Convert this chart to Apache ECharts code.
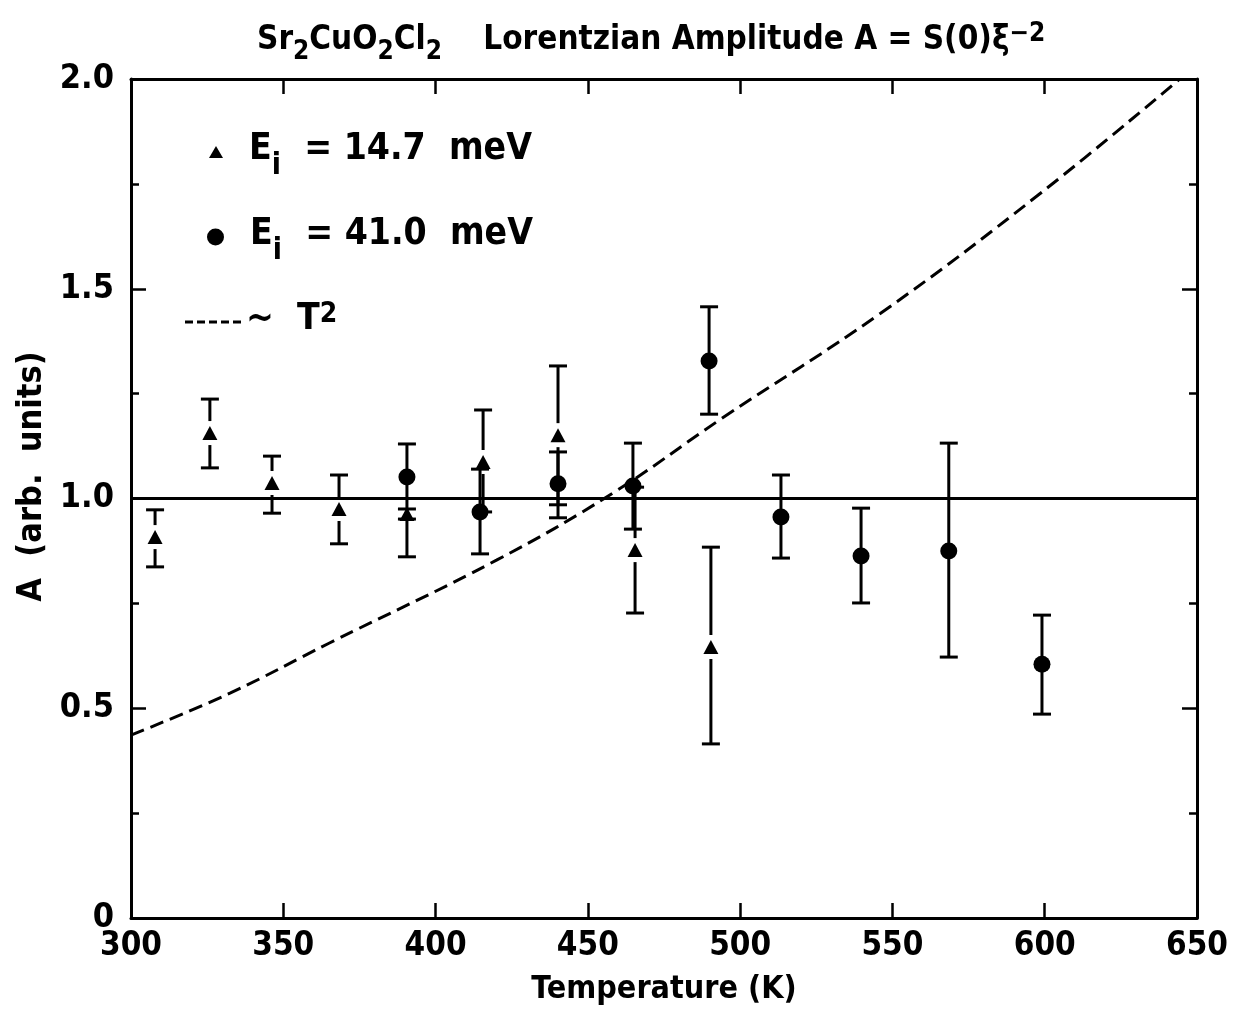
<!DOCTYPE html>
<html><head><meta charset="utf-8">
<script src="https://cdn.jsdelivr.net/npm/echarts@6/dist/echarts.min.js"></script>
<style>html,body{margin:0;padding:0;background:#fff}#c{width:1234px;height:1028px}</style>
</head><body><div id="c"></div>
<script>
// ---------- data ----------
const xTicks = [300, 350, 400, 450, 500, 550, 600, 650];
const yTicks = [0, 0.5, 1.0, 1.5, 2.0];

// Ei = 14.7 meV (triangles)
const triT  = [307.9, 325.9, 346.3, 368.3, 390.6, 415.6, 440.2, 465.5, 490.4];
const triA  = [0.908, 1.156, 1.037, 0.975, 0.963, 1.087, 1.151, 0.877, 0.646];
const triLo = [0.837, 1.073, 0.965, 0.892, 0.951, 0.968, 0.985, 0.727, 0.415];
const triHi = [0.973, 1.237, 1.101, 1.056, 0.975, 1.211, 1.316, 1.027, 0.884];

// Ei = 41.0 meV (circles)
const cirT  = [390.6, 414.6, 440.2, 464.8, 489.8, 513.4, 539.7, 568.5, 599.1];
const cirA  = [1.051, 0.968, 1.035, 1.030, 1.328, 0.956, 0.863, 0.875, 0.605];
const cirLo = [0.861, 0.868, 0.954, 0.927, 1.201, 0.858, 0.751, 0.622, 0.486];
const cirHi = [1.130, 1.070, 1.111, 1.132, 1.457, 1.056, 0.977, 1.132, 0.722];

// ~T^2 dashed curve
const curveT = [300, 332.5, 365, 420, 458, 494, 546, 598.5, 644];
const curveA = [0.436, 0.536, 0.655, 0.853, 1.012, 1.191, 1.441, 1.727, 1.998];

// reference level A = 1
const refT = [300, 650];
const refA = [1.0, 1.0];

const names = ['E_i = 14.7 meV', 'E_i = 41.0 meV', '~ T^2'];
// -----------------------------------------------------

const FONT = "'Liberation Sans Narrow','DejaVu Sans Condensed','Arial Narrow',sans-serif";
const zip = (a, b) => a.map((v, i) => [v, b[i]]);

function errRender(gap) {
  return function (params, api) {
    const x = api.value(0), lo = api.value(1), hi = api.value(2), v = api.value(3);
    const pHi = api.coord([x, hi]), pLo = api.coord([x, lo]), pV = api.coord([x, v]);
    const cap = 9;
    const st = { stroke: '#000', lineWidth: 3, fill: null };
    const ch = [
      { type: 'line', shape: { x1: pHi[0] - cap, y1: pHi[1], x2: pHi[0] + cap, y2: pHi[1] }, style: st },
      { type: 'line', shape: { x1: pLo[0] - cap, y1: pLo[1], x2: pLo[0] + cap, y2: pLo[1] }, style: st }
    ];
    if (gap > 0) {
      if (pV[1] - gap > pHi[1]) ch.push({ type: 'line', shape: { x1: pHi[0], y1: pHi[1], x2: pV[0], y2: pV[1] - gap }, style: st });
      if (pV[1] + gap < pLo[1]) ch.push({ type: 'line', shape: { x1: pV[0], y1: pV[1] + gap, x2: pLo[0], y2: pLo[1] }, style: st });
    } else {
      ch.push({ type: 'line', shape: { x1: pHi[0], y1: pHi[1], x2: pLo[0], y2: pLo[1] }, style: st });
    }
    return { type: 'group', children: ch };
  };
}

const baseText = { fontFamily: FONT, fontWeight: 'bold', color: '#000' };
const legendRich = {
  e: Object.assign({}, baseText, { fontSize: 37, lineHeight: 42, verticalAlign: 'top' }),
  s: Object.assign({}, baseText, { fontSize: 30, lineHeight: 28, verticalAlign: 'top', padding: [20, 0, 0, 0] }),
  t: Object.assign({}, baseText, { fontSize: 37, lineHeight: 42, verticalAlign: 'top' }),
  p: Object.assign({}, baseText, { fontSize: 28, lineHeight: 28, verticalAlign: 'top', padding: [0, 0, 14, 0] })
};
function legendFmt(name) {
  if (name === names[0]) return '{e|E}{s|i}{t|  = 14.7  meV}';
  if (name === names[1]) return '{e|E}{s|i}{t|  = 41.0  meV}';
  return '{t|~  T}{p|2}';
}

const axisLineStyle = { color: '#000', width: 3 };
const tickStyle = { color: '#000', width: 2.5 };

const xAxisCommon = {
  type: 'value', min: 300, max: 650, interval: 50,
  axisLine: { show: true, onZero: false, lineStyle: axisLineStyle },
  axisTick: { show: true, inside: true, length: 15, lineStyle: tickStyle },
  splitLine: { show: false }
};
const yAxisCommon = {
  type: 'value', min: 0, max: 2, interval: 0.5,
  axisLine: { show: true, onZero: false, lineStyle: axisLineStyle },
  axisTick: { show: true, inside: true, length: 15, lineStyle: tickStyle },
  minorTick: { show: true, splitNumber: 2, length: 8, lineStyle: tickStyle },
  splitLine: { show: false }, minorSplitLine: { show: false }
};

// dashed legend sample: 5 dashes
const dashIcon = 'path://M0,0h8v3h-8z M12,0h8v3h-8z M24,0h8v3h-8z M36,0h8v3h-8z M48,0h8v3h-8z';

const option = {
  backgroundColor: '#fff',
  animation: false,
  title: {
    text: 'Sr{s|2}CuO{s|2}Cl{s|2}    Lorentzian Amplitude A = S(0)ξ{p|−2}',
    left: 252, top: 16,
    textStyle: Object.assign({}, baseText, {
      fontSize: 33, lineHeight: 38,
      rich: {
        s: Object.assign({}, baseText, { fontSize: 26, lineHeight: 26, verticalAlign: 'top', padding: [18, 0, 0, 0] }),
        p: Object.assign({}, baseText, { fontSize: 26, lineHeight: 26, verticalAlign: 'top', padding: [0, 0, 12, 0] })
      }
    })
  },
  grid: { left: 131, right: 37, top: 79, bottom: 110, containLabel: false },
  legend: [
    { data: [names[0]], left: 204, top: 126, orient: 'vertical', icon: 'triangle', itemWidth: 14, itemHeight: 12,
      formatter: legendFmt, textStyle: Object.assign({}, baseText, { fontSize: 37, rich: legendRich, padding: [0, 0, 0, 21] }) },
    { data: [names[1]], left: 202, top: 211, orient: 'vertical', icon: 'circle', itemWidth: 17, itemHeight: 17,
      formatter: legendFmt, textStyle: Object.assign({}, baseText, { fontSize: 37, rich: legendRich, padding: [0, 0, 0, 21] }) },
    { data: [names[2]], left: 180, top: 296, orient: 'vertical', icon: dashIcon, itemWidth: 56, itemHeight: 3,
      itemStyle: { color: '#000' },
      formatter: legendFmt, textStyle: Object.assign({}, baseText, { fontSize: 37, rich: legendRich }) }
  ],
  xAxis: [
    Object.assign({}, xAxisCommon, {
      position: 'bottom',
      name: 'Temperature (K)', nameLocation: 'middle', nameGap: 56,
      nameTextStyle: Object.assign({}, baseText, { fontSize: 32 }),
      axisLabel: Object.assign({}, baseText, { fontSize: 33, margin: 12 })
    }),
    Object.assign({}, xAxisCommon, { position: 'top', axisLabel: { show: false } })
  ],
  yAxis: [
    Object.assign({}, yAxisCommon, {
      position: 'left',
      name: 'A  (arb.  units)', nameLocation: 'middle', nameGap: 78, nameRotate: 90,
      nameTextStyle: Object.assign({}, baseText, { fontSize: 34, padding: [0, 0, 0, 44] }),
      axisLabel: Object.assign({}, baseText, { fontSize: 34, margin: 17,
        formatter: v => (v === 0 ? '0' : v.toFixed(1)) })
    }),
    Object.assign({}, yAxisCommon, { position: 'right', axisLabel: { show: false } })
  ],
  series: [
    { name: 'ref', type: 'line', data: zip(refT, refA), symbol: 'none',
      lineStyle: { color: '#000', width: 3 }, z: 2, silent: true },
    { name: names[2], type: 'line', data: zip(curveT, curveA), symbol: 'none', smooth: 0.4,
      lineStyle: { color: '#000', width: 3, type: [14, 7] }, itemStyle: { color: '#000' }, z: 2 },
    { name: 'triErr', type: 'custom', renderItem: errRender(12),
      data: triT.map((t, i) => [t, triLo[i], triHi[i], triA[i]]), z: 3, silent: true },
    { name: 'cirErr', type: 'custom', renderItem: errRender(0),
      data: cirT.map((t, i) => [t, cirLo[i], cirHi[i], cirA[i]]), z: 3, silent: true },
    { name: names[0], type: 'scatter', data: zip(triT, triA), symbol: 'triangle', symbolSize: [15, 14],
      itemStyle: { color: '#000', opacity: 1 }, z: 5 },
    { name: names[1], type: 'scatter', data: zip(cirT, cirA), symbol: 'circle', symbolSize: 17,
      itemStyle: { color: '#000', opacity: 1 }, z: 5 }
  ]
};

const chart = echarts.init(document.getElementById('c'), null, { renderer: 'canvas' });
chart.setOption(option);
</script>
</body></html>
